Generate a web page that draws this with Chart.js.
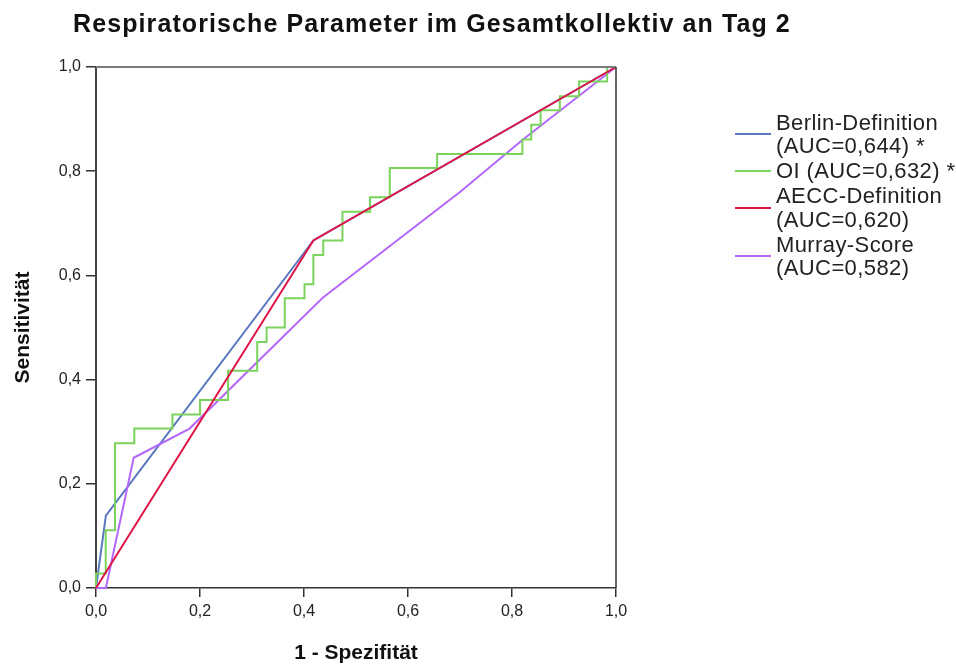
<!DOCTYPE html>
<html>
<head>
<meta charset="utf-8">
<script src="https://cdn.jsdelivr.net/npm/chart.js@4/dist/chart.umd.min.js"></script>
<style>
  body { margin: 0; background: #fff; font-family: "Liberation Sans", Arial, sans-serif; }
  #wrap { position: relative; width: 956px; height: 670px; }
  #title { position: absolute; left: 73px; top: 9px; font-size: 25px; font-weight: bold; letter-spacing: 1.1px; color: #111; white-space: nowrap; }
  #legend { position: absolute; left: 735px; top: 111px; font-size: 22px; letter-spacing: 0.4px; color: #222; }
  .item { display: flex; align-items: center; margin-bottom: 1.6px; }
  .swatch { width: 36px; height: 2px; margin-right: 5px; }
  .txt { line-height: 23.4px; white-space: nowrap; }
</style>
</head>
<body>
<div id="wrap">
  <canvas id="roc" width="956" height="670"></canvas>
  <div id="title">Respiratorische Parameter im Gesamtkollektiv an Tag 2</div>
  <div id="legend"></div>
</div>
<script>
// ROC-Kurven (1 - Spezifität / Sensitivität)
const berlinX = [0, 0.019, 0.418, 1];
const berlinY = [0, 0.139, 0.667, 1];

const oiX = [0, 0, 0.0187, 0.0365, 0.0737, 0.147, 0.20, 0.254, 0.310, 0.328, 0.363, 0.401, 0.418,
             0.437, 0.474, 0.527, 0.565, 0.656, 0.820, 0.837, 0.855, 0.892, 0.929, 0.983, 1.0];
const oiY = [0, 0.028, 0.111, 0.278, 0.306, 0.333, 0.361, 0.417, 0.472, 0.500, 0.556, 0.583, 0.639,
             0.667, 0.722, 0.750, 0.806, 0.833, 0.861, 0.889, 0.917, 0.944, 0.972, 1.0, 1.0];

const aeccX = [0, 0.418, 1];
const aeccY = [0, 0.667, 1];

const murrayX = [0, 0.019, 0.0725, 0.18, 0.436, 0.70, 0.82, 1];
const murrayY = [0, 0, 0.25, 0.306, 0.557, 0.76, 0.86, 1];

const seriesNames = [
    ['Berlin-Definition', '(AUC=0,644) *'],
    ['OI (AUC=0,632) *'],
    ['AECC-Definition', '(AUC=0,620)'],
    ['Murray-Score', '(AUC=0,582)']
];
const seriesColors = ['rgb(90,120,192)', 'rgb(122,212,92)', 'rgb(222,22,72)', 'rgb(180,104,250)'];
const xTicks = [0, 0.2, 0.4, 0.6, 0.8, 1.0];

function toPoints(xs, ys) {
    return xs.map((x, i) => ({ x: x, y: ys[i] }));
}

const fmt = (v) => v.toFixed(1).replace('.', ',');

// Rahmen oben und rechts
const framePlugin = {
    id: 'frame',
    afterDraw(chart) {
        const a = chart.chartArea;
        const ctx = chart.ctx;
        ctx.save();
        ctx.strokeStyle = '#7a7a7a';
        ctx.lineWidth = 2;
        ctx.beginPath();
        ctx.moveTo(a.left, a.top);
        ctx.lineTo(a.right, a.top);
        ctx.stroke();
        ctx.strokeStyle = '#333';
        ctx.lineWidth = 1.5;
        ctx.beginPath();
        ctx.moveTo(a.right, a.top);
        ctx.lineTo(a.right, a.bottom);
        ctx.stroke();
        ctx.restore();
    }
};

function initializeChart() {
    const ctx = document.getElementById('roc').getContext('2d');
    const common = { borderWidth: 2, pointRadius: 0, fill: false, tension: 0, clip: 4 };

    new Chart(ctx, {
        type: 'line',
        data: {
            datasets: [
                { ...common, label: seriesNames[0].join(' '), data: toPoints(berlinX, berlinY), borderColor: seriesColors[0], order: 3 },
                { ...common, label: seriesNames[1].join(' '), data: toPoints(oiX, oiY), borderColor: seriesColors[1], stepped: true, order: 1 },
                { ...common, label: seriesNames[2].join(' '), data: toPoints(aeccX, aeccY), borderColor: seriesColors[2], order: 0 },
                { ...common, label: seriesNames[3].join(' '), data: toPoints(murrayX, murrayY), borderColor: seriesColors[3], order: 2 }
            ]
        },
        options: {
            responsive: false,
            animation: false,
            layout: { padding: { left: 0, top: 67, right: 340, bottom: 0 } },
            scales: {
                x: {
                    type: 'linear',
                    min: 0, max: 1,
                    afterBuildTicks: (scale) => { scale.ticks = xTicks.map(v => ({ value: v })); },
                    afterFit: (scale) => { scale.height = 82; },
                    ticks: { callback: fmt, color: '#222', font: { family: 'Liberation Sans', size: 16 }, padding: 5, maxRotation: 0 },
                    grid: { display: true, drawOnChartArea: false, drawTicks: true, tickLength: 9, color: '#333', lineWidth: 1.5 },
                    border: { display: true, color: '#333', width: 1.5 },
                    title: { display: true, text: '1 - Spezifität', color: '#111', font: { family: 'Liberation Sans', size: 21, weight: 'bold' }, padding: { top: 4, bottom: 4 } }
                },
                y: {
                    type: 'linear',
                    min: 0, max: 1,
                    afterBuildTicks: (scale) => { scale.ticks = xTicks.map(v => ({ value: v })); },
                    afterFit: (scale) => { scale.width = 96; },
                    ticks: { callback: fmt, color: '#222', font: { family: 'Liberation Sans', size: 16 }, padding: 5 },
                    grid: { display: true, drawOnChartArea: false, drawTicks: true, tickLength: 10, color: '#333', lineWidth: 1.5 },
                    border: { display: true, color: '#444', width: 2 },
                    title: { display: true, text: 'Sensitivität', color: '#111', font: { family: 'Liberation Sans', size: 21, weight: 'bold' }, padding: { top: 11, bottom: 4 } }
                }
            },
            plugins: {
                legend: { display: false },
                tooltip: { enabled: false }
            }
        },
        plugins: [framePlugin]
    });
}

function buildLegend() {
    const box = document.getElementById('legend');
    seriesNames.forEach((lines, i) => {
        const item = document.createElement('div');
        item.className = 'item';
        const sw = document.createElement('div');
        sw.className = 'swatch';
        sw.style.background = seriesColors[i];
        const txt = document.createElement('div');
        txt.className = 'txt';
        txt.innerHTML = lines.join('<br>');
        item.appendChild(sw);
        item.appendChild(txt);
        box.appendChild(item);
    });
}

document.addEventListener('DOMContentLoaded', function() {
    buildLegend();
    initializeChart();
});
</script>
</body>
</html>
